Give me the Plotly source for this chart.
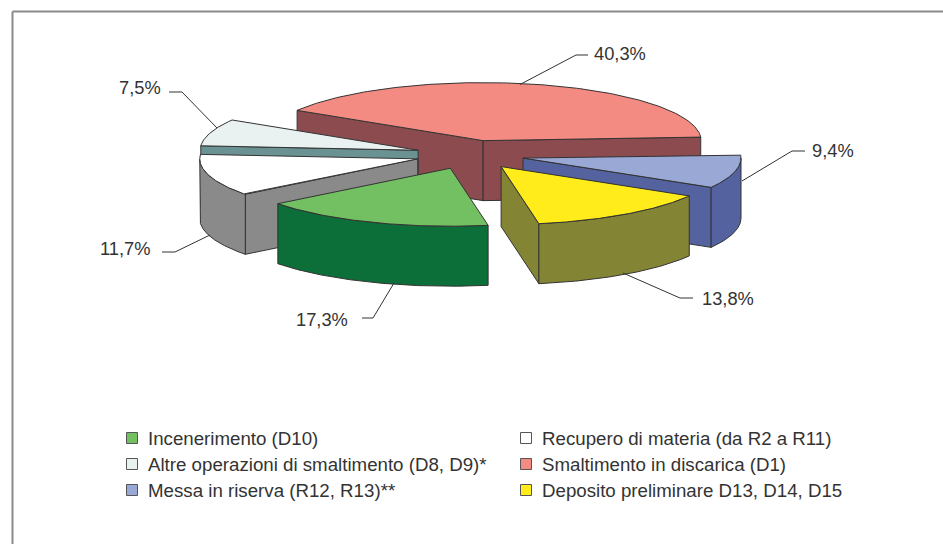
import numpy as np
import plotly.graph_objects as go

# ---- data (clockwise drawing order, starting at the right-hand edge of the largest slice's end)
categories = ["Messa in riserva (R12, R13)**", "Deposito preliminare D13, D14, D15",
              "Incenerimento (D10)", "Recupero di materia (da R2 a R11)",
              "Altre operazioni di smaltimento (D8, D9)*", "Smaltimento in discarica (D1)"]
values = [9.4, 13.8, 17.3, 11.7, 7.5, 40.3]

top_colors = ["#99A8D5", "#FFEC1A", "#72C062", "#FFFFFF", "#E9F2F1", "#F48B82"]
wall_colors = ["#54639F", "#848435", "#0C6E38", "#8A8A8A", "#6B9292", "#8B4B4F"]

# ---- geometry of the projected pie
CX, CY = 470.0, 154.7
RX, RY = 218.0, 58.0
DEPTH = 60.0
EXPLODE = 0.25
START = 3.5
EDGE = "#333333"
TEXT = "#333333"
FONT = "Liberation Sans, Arial, sans-serif"

# back-to-front painting order (indices into categories)
paint_order = [5, 4, 3, 0, 1, 2]
# legend layout: index, x of marker, y
legend_rows = [(2, 132, 438), (3, 526, 438), (4, 132, 464), (5, 526, 464), (0, 132, 490), (1, 526, 490)]
# leader line vertices and label anchor for each slice
leaders = {
    5: ([520, 576, 588], [84.5, 55, 55], 620, 53),
    0: ([742, 792, 805], [181, 151, 151], 833, 150.5),
    1: ([623, 680, 693], [273, 298, 298], 728, 298),
    2: ([394, 373, 362], [283, 318, 318], 322, 319),
    3: ([210, 175, 162], [235, 252, 252], 125, 248),
    4: ([217, 182, 169], [128, 92, 92], 140, 87),
}


def ell(theta_deg):
    t = np.radians(theta_deg)
    return RX * np.cos(t), -RY * np.sin(t)


fractions = np.array(values) / sum(values) * 360.0
ends = START - np.cumsum(fractions)
starts = ends + fractions

fig = go.Figure()


def poly(xs, ys, color, name):
    fig.add_trace(go.Scatter(x=list(xs), y=list(ys), mode="lines", fill="toself", fillcolor=color,
                             line=dict(color=EDGE, width=1), hoverinfo="text", text=name,
                             showlegend=False))


for i in paint_order:
    th0, th1 = starts[i], ends[i]
    mid = (th0 + th1) / 2
    ox, oy = ell(mid)
    ax, ay = CX + EXPLODE * ox, CY + EXPLODE * oy
    name = categories[i]
    # radial cut faces that look toward the viewer
    for th, visible in ((th0, np.cos(np.radians(th0)) < 0), (th1, np.cos(np.radians(th1)) > 0)):
        if visible:
            ex, ey = ell(th)
            poly([ax, ax + ex, ax + ex, ax, ax], [ay, ay + ey, ay + ey + DEPTH, ay + DEPTH, ay],
                 wall_colors[i], name)
    # front part of the outer wall
    th = np.linspace(th0, th1, 120)
    th = th[np.sin(np.radians(th)) <= 0]
    if th.size:
        ex, ey = ell(th)
        poly(np.r_[ax + ex, (ax + ex)[::-1], ax + ex[0]],
             np.r_[ay + ey, (ay + ey + DEPTH)[::-1], ay + ey[0]], wall_colors[i], name)
    # top face
    th = np.linspace(th0, th1, 160)
    ex, ey = ell(th)
    poly(np.r_[ax, ax + ex, ax], np.r_[ay, ay + ey, ay], top_colors[i], name)

annotations = []
# leader lines and value labels
for i, (lx, ly, tx, ty) in leaders.items():
    fig.add_trace(go.Scatter(x=lx, y=ly, mode="lines", line=dict(color=EDGE, width=1),
                             hoverinfo="skip", showlegend=False))
    annotations.append(dict(x=tx, y=ty, text=f"{values[i]:.1f}".replace(".", ",") + "%", showarrow=False,
                            xanchor="center", yanchor="middle",
                            font=dict(family=FONT, size=18.3, color=TEXT)))

# legend
for i, mx, my in legend_rows:
    fig.add_trace(go.Scatter(x=[mx], y=[my], mode="markers",
                             marker=dict(symbol="square", size=11, color=top_colors[i],
                                         line=dict(color="#555555", width=1)),
                             hoverinfo="skip", showlegend=False))
    annotations.append(dict(x=mx + 14, y=my, text=categories[i], showarrow=False, xanchor="left",
                            yanchor="middle", font=dict(family=FONT, size=18.7, color=TEXT)))

fig.update_layout(
    width=943, height=544, margin=dict(l=0, r=0, t=0, b=0),
    paper_bgcolor="white", plot_bgcolor="white",
    xaxis=dict(range=[0, 943], visible=False, fixedrange=True),
    yaxis=dict(range=[544, 0], visible=False, fixedrange=True),
    annotations=annotations,
    shapes=[dict(type="line", x0=12.5, x1=12.5, y0=11.5, y1=544, line=dict(color="#8A8A8A", width=2)),
            dict(type="line", x0=12.5, x1=943, y0=11.5, y1=11.5, line=dict(color="#8A8A8A", width=2))],
)
fig.write_html("out.html", config=dict(displayModeBar=False),
               post_script="document.body.style.margin='0';document.documentElement.style.overflow='hidden';")
